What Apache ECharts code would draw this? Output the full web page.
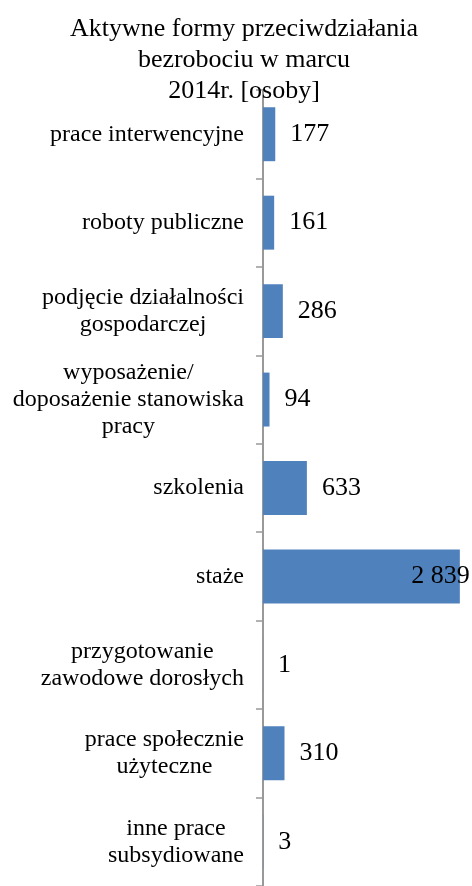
<!DOCTYPE html>
<html>
<head>
<meta charset="utf-8">
<script src="https://cdn.jsdelivr.net/npm/echarts@6/dist/echarts.min.js"></script>
<style>
html,body{margin:0;padding:0;background:#fff;}
#chart{width:472px;height:886px;}
</style>
</head>
<body>
<div id="chart"></div>
<script>
const titleText = 'Aktywne formy przeciwdziałania\nbezrobociu w marcu\n2014r. [osoby]';
const categories = [
  'prace interwencyjne',
  'roboty publiczne',
  'podjęcie działalności\ngospodarczej',
  'wyposażenie/\ndoposażenie stanowiska\npracy',
  'szkolenia',
  'staże',
  'przygotowanie\nzawodowe dorosłych',
  'prace społecznie\nużyteczne',
  'inne prace\nsubsydiowane'
];
const values = [177, 161, 286, 94, 633, 2839, 1, 310, 3];
const xMax = 3000;

const FONT = "'Liberation Serif', 'Times New Roman', serif";
function fmt(v) {
  return String(v).replace(/\B(?=(\d{3})+(?!\d))/g, ' ');
}
const maxIdx = values.indexOf(Math.max(...values));
const seriesData = values.map((v, i) => {
  if (i === maxIdx) {
    return { value: v, label: { position: 'insideRight', distance: 0, offset: [10, 0] } };
  }
  return v;
});

const chart = echarts.init(document.getElementById('chart'));
chart.setOption({
  animation: false,
  backgroundColor: '#fff',
  title: {
    text: titleText,
    left: 239,
    textAlign: 'center',
    top: 9,
    textStyle: { fontFamily: FONT, fontSize: 26, fontWeight: 'normal', color: '#000', lineHeight: 31 }
  },
  grid: { left: 263, right: 1, top: 90, bottom: -6, containLabel: false },
  xAxis: {
    type: 'value', min: 0, max: xMax, show: false
  },
  yAxis: {
    type: 'category',
    data: categories,
    inverse: true,
    axisLine: { show: true, lineStyle: { color: '#999', width: 2 } },
    axisTick: { show: true, length: 7, lineStyle: { color: '#999', width: 1.5 } },
    axisLabel: {
      margin: 19,
      align: 'right',
      formatter: function (v) { return '{a|' + v + '}'; },
      rich: {
        a: { fontFamily: FONT, fontSize: 24, color: '#000', lineHeight: 27, align: 'center' }
      }
    },
    splitLine: { show: false }
  },
  series: [{
    type: 'bar',
    data: seriesData,
    barCategoryGap: '39%',
    itemStyle: { color: '#4F81BD' },
    label: {
      show: true,
      position: 'right',
      distance: 15,
      fontFamily: FONT,
      fontSize: 26,
      color: '#000',
      formatter: function (p) { return fmt(p.value); }
    }
  }]
});
</script>
</body>
</html>
